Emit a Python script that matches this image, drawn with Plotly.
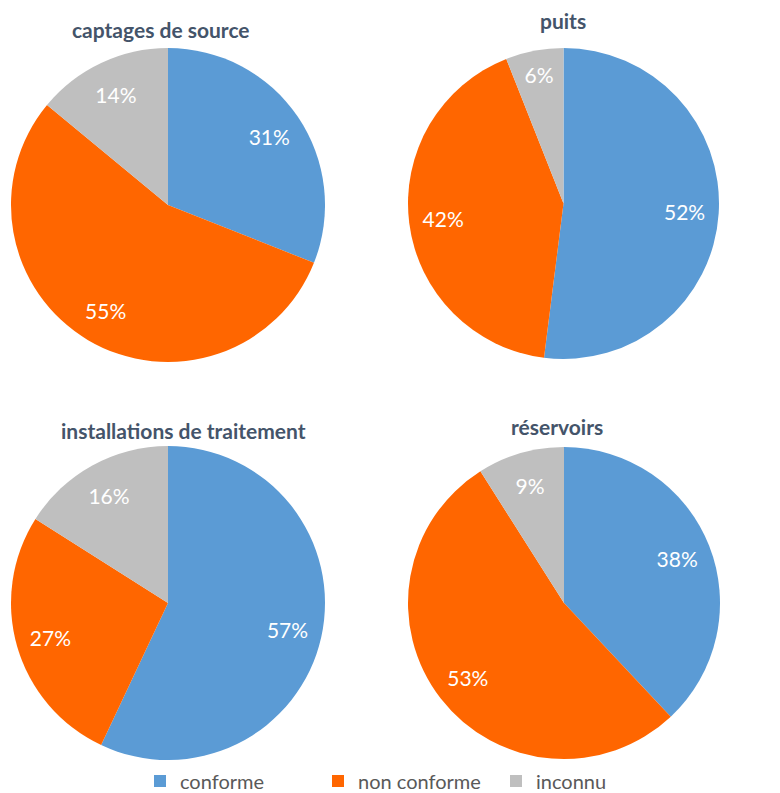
import plotly.graph_objects as go

categories = ["conforme", "non conforme", "inconnu"]
titles = ["captages de source", "puits", "installations de traitement", "réservoirs"]
captages = [31, 55, 14]
puits = [52, 42, 6]
installations = [57, 27, 16]
reservoirs = [38, 53, 9]
colors = ["#5B9BD5", "#FF6600", "#BFBFBF"]

W, H = 780, 793
def px_x(a, b):
    return [a / W, b / W]
def px_y(top, bottom):
    return [1 - bottom / H, 1 - top / H]

domains = [
    (px_x(11, 325), px_y(48, 362)),
    (px_x(408, 719), px_y(48, 359)),
    (px_x(11, 325), px_y(446, 760)),
    (px_x(408, 720), px_y(446, 760)),
]
series = [captages, puits, installations, reservoirs]
title_pos = [(161, 30), (563, 20), (183, 430), (557, 426)]

fig = go.Figure()
for i, (vals, (dx, dy)) in enumerate(zip(series, domains)):
    fig.add_trace(go.Pie(
        labels=categories, values=vals, sort=False, direction="clockwise", rotation=0,
        marker=dict(colors=colors, line=dict(width=0)),
        textinfo="none",
        domain=dict(x=dx, y=dy), showlegend=(i == 0), hoverinfo="label+value",
    ))
    fig.add_trace(go.Pie(
        labels=categories, values=vals, sort=False, direction="clockwise", rotation=0,
        hole=0.56,
        marker=dict(colors=["rgba(0,0,0,0)"] * 3, line=dict(width=0)),
        texttemplate="%{value}%", textposition="inside",
        insidetextorientation="horizontal",
        textfont=dict(color="white", size=21, family="Lato"),
        domain=dict(x=dx, y=dy), showlegend=False, hoverinfo="skip",
    ))

for t, (x, y) in zip(titles, title_pos):
    fig.add_annotation(text=f"<b>{t}</b>", x=x / W, y=1 - y / H, xref="paper", yref="paper",
                       showarrow=False, xanchor="center", yanchor="middle",
                       font=dict(size=21, color="#44546A", family="Lato"))

fig.update_layout(
    width=W, height=H, margin=dict(l=0, r=0, t=0, b=0, autoexpand=False),
    paper_bgcolor="white", plot_bgcolor="white",
    legend=dict(orientation="h", x=140 / W, xanchor="left", y=1 - 781 / H, yanchor="middle",
                font=dict(size=20, color="#595959", family="Lato"),
                entrywidth=133, entrywidthmode="pixels",
                itemwidth=30, traceorder="normal"),
)
fig.write_html("out.html")
